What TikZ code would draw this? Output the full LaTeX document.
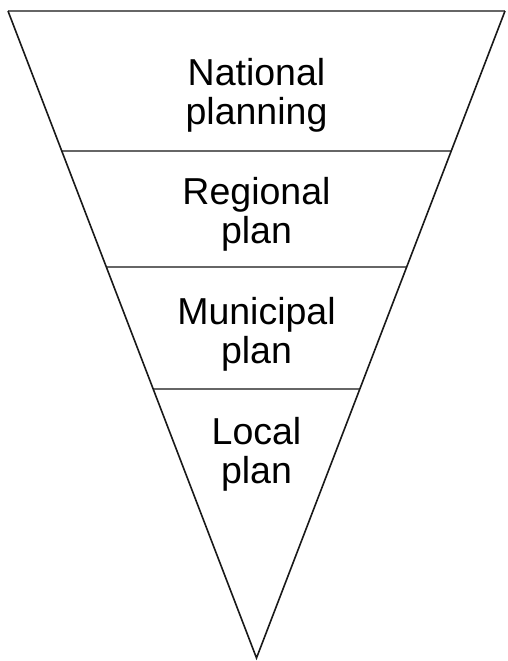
\documentclass[tikz,border=0pt]{standalone}
\usepackage{fontspec}
\setmainfont{Liberation Sans}
\usetikzlibrary{positioning,calc}

\begin{document}
\begin{tikzpicture}[
        x=1pt, y=-1pt,
        font=\fontsize{37.5}{39}\selectfont,
        level/.style={align=center, inner sep=0pt},
        rim/.style={draw=black!90, line width=1.6pt, line join=miter},
        divider/.style={draw=black!60, line width=1.8pt},
    ]
    \useasboundingbox (0,0) rectangle (507,661);

    % Funnel corners
    \coordinate (tl) at (8,11);
    \coordinate (tr) at (505,11);
    \coordinate (apex) at (256.5,658);

    % Dividers between the levels
    \coordinate (l1) at ($(tl)!0.2164!(apex)$);
    \coordinate (r1) at ($(tr)!0.2164!(apex)$);
    \coordinate (l2) at ($(tl)!0.3957!(apex)$);
    \coordinate (r2) at ($(tr)!0.3957!(apex)$);
    \coordinate (l3) at ($(tl)!0.5842!(apex)$);
    \coordinate (r3) at ($(tr)!0.5842!(apex)$);

    \draw[divider] (tl) -- (tr);
    \draw[divider] (l1) -- (r1);
    \draw[divider] (l2) -- (r2);
    \draw[divider] (l3) -- (r3);
    \draw[rim] (tl) -- (apex) -- (tr);

    % Level labels
    \node[level] (national) at (256.5,95) {National\\planning};
    \node[level] (regional) at (256.5,214) {Regional\\plan};
    \node[level] (municipal) at (256.5,334) {Municipal\\plan};
    \node[level] (local) at (256.5,454) {Local\\plan};
\end{tikzpicture}
\end{document}
